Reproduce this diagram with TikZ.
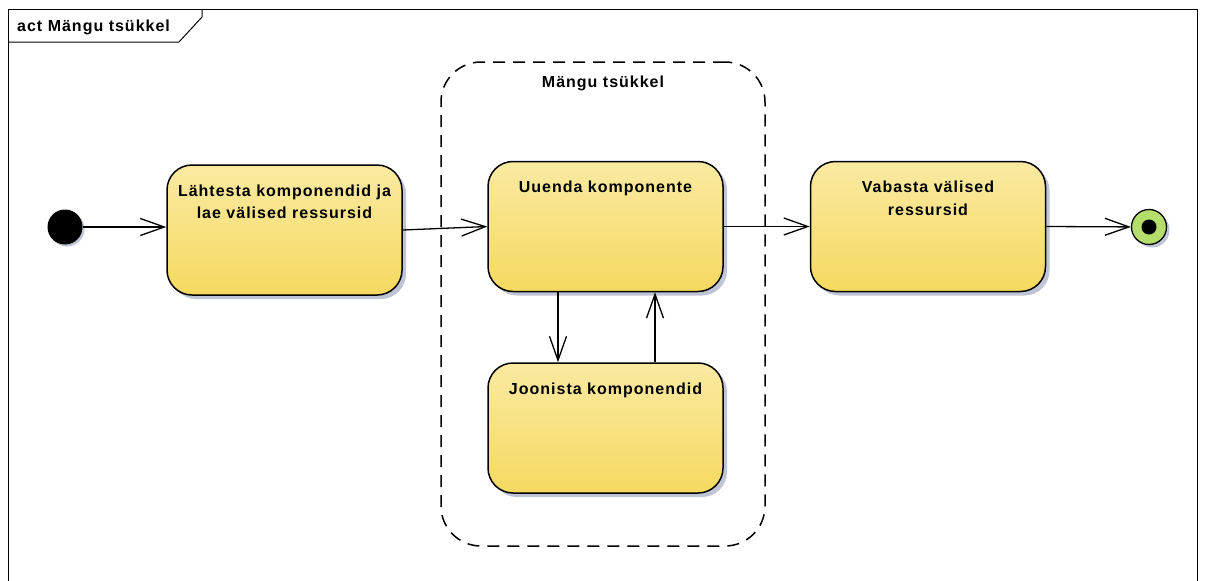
\documentclass[tikz,border=0pt]{standalone}
\usepackage{fontspec}
\setmainfont{Liberation Sans}[LetterSpace=6.25]
\usetikzlibrary{arrows.meta,shadows,calc}
\definecolor{acttop}{RGB}{250,234,162}
\definecolor{actbot}{RGB}{245,217,96}
\definecolor{shadecol}{RGB}{192,197,214}
\definecolor{finalgreen}{RGB}{181,221,108}
\begin{document}
\begin{tikzpicture}[x=1pt,y=-1pt,
  every node/.style={font=\fontsize{16}{22.5}\selectfont\bfseries},
  action/.style={draw=black, line width=1.5pt, rounded corners=25pt,
    top color=acttop, bottom color=actbot,
    minimum width=235pt, minimum height=130pt, inner sep=0pt,
    general shadow={fill=shadecol, shadow xshift=4pt, shadow yshift=-4pt}},
  caption/.style={anchor=north, inner sep=0pt, align=center, yshift=-20.3pt},
  flow/.style={line width=1.3pt,
    -{Straight Barb[length=24pt,width=17pt,line width=1.3pt]}},
  region/.style={draw=black, line width=1.5pt, dash pattern=on 12pt off 8pt,
    rounded corners=40pt, minimum width=324pt, minimum height=484pt, inner sep=0pt},
  startdot/.style={circle, fill=black, minimum size=35pt, inner sep=0pt,
    general shadow={fill=shadecol, shadow xshift=2pt, shadow yshift=-2pt}},
  enddot/.style={circle, draw=black, line width=1.3pt, fill=finalgreen,
    minimum size=35pt, inner sep=0pt,
    general shadow={fill=shadecol, shadow xshift=3pt, shadow yshift=-3pt}}]
\useasboundingbox (0,0) rectangle (1205,581);

% diagram frame with its name tab
\draw[line width=1pt] (8,600) -- (8,9) -- (1197,9) -- (1197,600);
\draw[line width=1pt] (8,42) -- (179,42) -- (202,17) -- (202,9);
\node[anchor=base west, inner sep=0pt] (frametitle) at (17,31) {act Mängu tsükkel};

% structured loop region
\node[region, label={[name=looptitle, anchor=north, inner sep=0pt, yshift=-14.3pt]north:Mängu tsükkel}]
  (loop) at (603,304) {};

% actions
\node[action, label={[caption, name=n1text]north:Lähtesta komponendid ja\\lae välised ressursid}]
  (n1) at (284.5,230) {};
\node[action, label={[caption, name=n2text]north:Uuenda komponente}]
  (n2) at (605.5,226.5) {};
\node[action, label={[caption, name=n3text]north:Joonista komponendid}]
  (n3) at (605.5,428) {};
\node[action, label={[caption, name=n4text]north:Vabasta välised\\ressursid}]
  (n4) at (928,226.5) {};

% initial and final nodes
\node[startdot] (init) at (65,227) {};
\node[enddot] (fin) at (1149,227) {};
\fill[black] (fin.center) circle[radius=7.5pt];

% control flows
\draw[flow] (init) -- (init -| n1.west);
\draw[flow] (n1.east) -- (n2.west);
\draw[flow] ([xshift=-47.5pt]n2.south) -- ([xshift=-47.5pt]n3.north);
\draw[flow] ([xshift=49.5pt]n3.north) -- ([xshift=49.5pt]n2.south);
\draw[flow] (n2.east) -- (n4.west);
\draw[flow] (n4.east) -- (fin);
\end{tikzpicture}
\end{document}
